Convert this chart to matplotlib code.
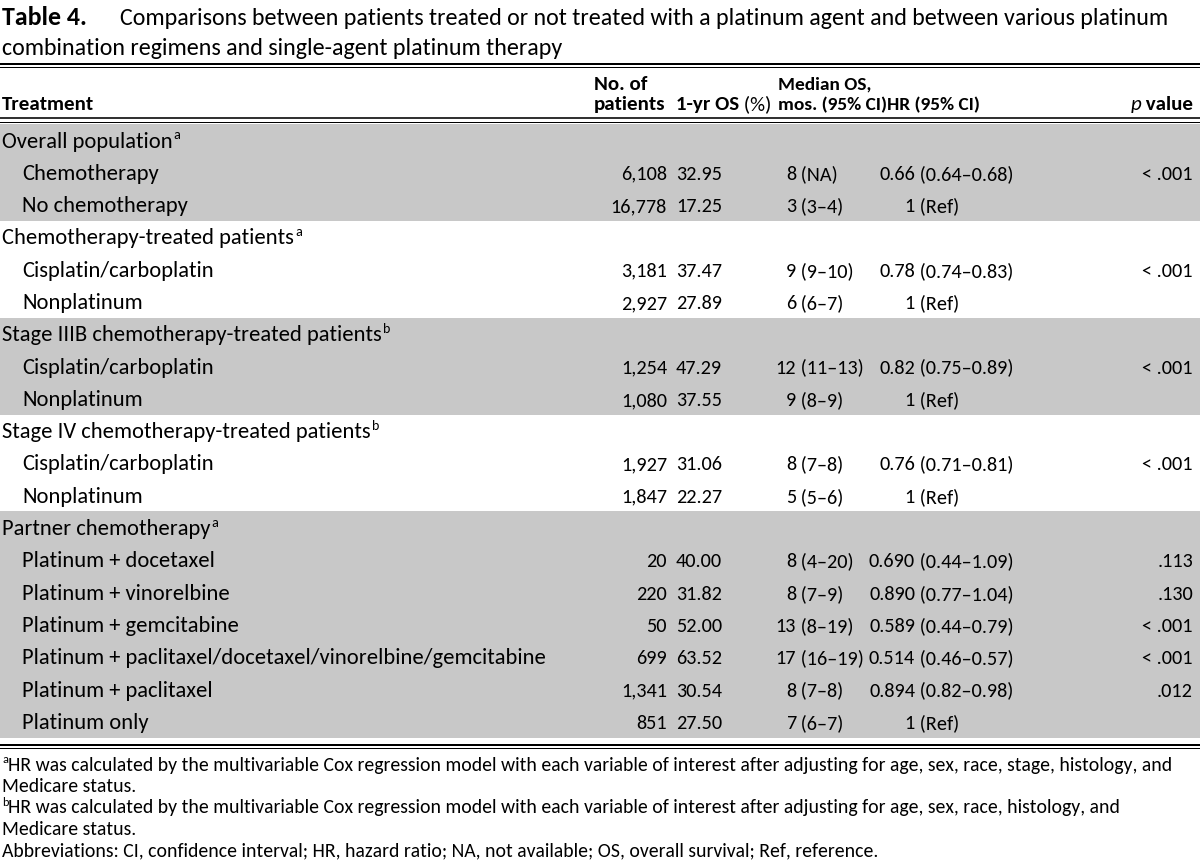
import matplotlib
matplotlib.use("Agg")
import matplotlib.pyplot as plt
from matplotlib import font_manager

installed = {f.name for f in font_manager.fontManager.ttflist}
base_font = "Carlito" if "Carlito" in installed else "Lato"
plt.rcParams["font.family"] = [base_font, "DejaVu Sans"]

# table content
labels = ["Overall population", "Chemotherapy", "No chemotherapy",
          "Chemotherapy-treated patients", "Cisplatin/carboplatin", "Nonplatinum",
          "Stage IIIB chemotherapy-treated patients", "Cisplatin/carboplatin", "Nonplatinum",
          "Stage IV chemotherapy-treated patients", "Cisplatin/carboplatin", "Nonplatinum",
          "Partner chemotherapy", "Platinum + docetaxel", "Platinum + vinorelbine",
          "Platinum + gemcitabine",
          "Platinum + paclitaxel/docetaxel/vinorelbine/gemcitabine",
          "Platinum + paclitaxel", "Platinum only"]
indent = [0, 1, 1, 0, 1, 1, 0, 1, 1, 0, 1, 1, 0, 1, 1, 1, 1, 1, 1]
sup = ["a", "", "", "a", "", "", "b", "", "", "b", "", "", "a", "", "", "", "", "", ""]
shaded = [1, 1, 1, 0, 0, 0, 1, 1, 1, 0, 0, 0, 1, 1, 1, 1, 1, 1, 1]
patients = ["", "6,108", "16,778", "", "3,181", "2,927", "", "1,254", "1,080", "",
            "1,927", "1,847", "", "20", "220", "50", "699", "1,341", "851"]
os_1yr = ["", "32.95", "17.25", "", "37.47", "27.89", "", "47.29", "37.55", "",
          "31.06", "22.27", "", "40.00", "31.82", "52.00", "63.52", "30.54", "27.50"]
median_os = ["", "8 (NA)", "3 (3\u20134)", "", "9 (9\u201310)", "6 (6\u20137)", "",
             "12 (11\u201313)", "9 (8\u20139)", "", "8 (7\u20138)", "5 (5\u20136)", "",
             "8 (4\u201320)", "8 (7\u20139)", "13 (8\u201319)", "17 (16\u201319)",
             "8 (7\u20138)", "7 (6\u20137)"]
hr_ci = ["", "0.66 (0.64\u20130.68)", "1 (Ref)", "", "0.78 (0.74\u20130.83)", "1 (Ref)", "",
         "0.82 (0.75\u20130.89)", "1 (Ref)", "", "0.76 (0.71\u20130.81)", "1 (Ref)", "",
         "0.690 (0.44\u20131.09)", "0.890 (0.77\u20131.04)", "0.589 (0.44\u20130.79)",
         "0.514 (0.46\u20130.57)", "0.894 (0.82\u20130.98)", "1 (Ref)"]
p_value = ["", "< .001", "", "", "< .001", "", "", "< .001", "", "",
           "< .001", "", "", ".113", ".130", "< .001", "< .001", ".012", ""]

title_bold = "Table 4."
title_lines = ["Comparisons between patients treated or not treated with a platinum agent and between various platinum",
               "combination regimens and single-agent platinum therapy"]
footnotes = [("a", "HR was calculated by the multivariable Cox regression model with each variable of interest after adjusting for age, sex, race, stage, histology, and"),
             ("", "Medicare status."),
             ("b", "HR was calculated by the multivariable Cox regression model with each variable of interest after adjusting for age, sex, race, histology, and"),
             ("", "Medicare status."),
             ("", "Abbreviations: CI, confidence interval; HR, hazard ratio; NA, not available; OS, overall survival; Ref, reference.")]

GRAY = "#c8c8c8"

fig = plt.figure(figsize=(12, 8.61), dpi=100)
ax = fig.add_axes([0, 0, 1, 1])
ax.set_xlim(0, 1200)
ax.set_ylim(861, 0)
ax.axis("off")
renderer = fig.canvas.get_renderer()


def text_w(s, size, **kw):
    t = ax.text(0, 0, s, fontsize=size, **kw)
    w = t.get_window_extent(renderer).width
    t.remove()
    return w


# font sizes fitted to the long lines of the reference
body = 14 * 526 / text_w(labels[16], 14)
num = body * 0.9
head = body * 0.93
head_narrow = body * 0.86   # median / HR headers sit close together
title_sz = 14 * 1053 / text_w(title_lines[0], 14)
foot_sz = 14 * 1172 / text_w(footnotes[0][1], 14)
px = 100 / 72


def runs(x, y, parts, size):
    for s, kw in parts:
        t = ax.text(x, y, s, fontsize=size, va="baseline", **kw)
        x += t.get_window_extent(renderer).width
    return x


def sup_text(x, y, s, size):
    ax.text(x, y - 0.36 * size * px, s, fontsize=size * 0.62, va="baseline")


# title
runs(2, 25, [(title_bold, {"fontweight": "bold"})], title_sz * 1.08)
runs(120, 25, [(title_lines[0], {})], title_sz)
runs(2, 55, [(title_lines[1], {})], title_sz)

# rules
for y, lw in [(63.5, 2.0), (67, 1.0), (118, 1.6), (121.5, 1.0), (744.5, 2.0), (748, 1.0)]:
    ax.axhline(y, color="black", lw=lw * 0.72)

# header
b2 = 110
b1 = 90
bold = {"fontweight": "bold"}
runs(2, b2, [("Treatment", bold)], head)
runs(594, b1, [("No. of", bold)], head)
runs(594, b2, [("patients", bold)], head)
runs(676, b2, [("1-yr OS", bold), (" (%)", {})], head)
runs(778, b1, [("Median OS,", bold)], head_narrow)
runs(778, b2, [("mos. (95% CI)", bold)], head_narrow)
runs(887, b2, [("HR (95% CI)", bold)], head_narrow)
pw = text_w("p", head, fontstyle="italic") + text_w(" value", head, fontweight="bold")
runs(1193 - pw, b2, [("p", {"fontstyle": "italic"}), (" value", bold)], head)

# body rows
pitch = 32.3
for i, lab in enumerate(labels):
    yc = 140 + pitch * i
    if shaded[i]:
        ax.axhspan(yc - 16.2, yc + 16.2, color=GRAY, lw=0, zorder=0)
    yb = yc + 7.5
    x0 = 22 if indent[i] else 2
    xe = runs(x0, yb, [(lab, {})], body)
    if sup[i]:
        sup_text(xe + 1, yb, sup[i], body)
    if patients[i]:
        ax.text(667, yb, patients[i], fontsize=num, ha="right", va="baseline")
        ax.text(676, yb, os_1yr[i], fontsize=num, ha="left", va="baseline")
        lead, rest = median_os[i].split(" ", 1)
        ax.text(796, yb, lead, fontsize=num, ha="right", va="baseline")
        ax.text(796, yb, " " + rest, fontsize=num, ha="left", va="baseline")
        lead, rest = hr_ci[i].split(" ", 1)
        ax.text(915, yb, lead, fontsize=num, ha="right", va="baseline")
        ax.text(915, yb, " " + rest, fontsize=num, ha="left", va="baseline")
        if p_value[i]:
            ax.text(1193, yb, p_value[i], fontsize=num, ha="right", va="baseline")

# footnotes
for k, (mark, line) in enumerate(footnotes):
    yb = 764 + 21.5 * k + 6.5
    x = 2
    if mark:
        t = ax.text(x, yb - 0.36 * foot_sz * px, mark, fontsize=foot_sz * 0.62, va="baseline")
        x += t.get_window_extent(renderer).width
    ax.text(x, yb, line, fontsize=foot_sz, va="baseline")

fig.savefig("out.png", dpi=100)
